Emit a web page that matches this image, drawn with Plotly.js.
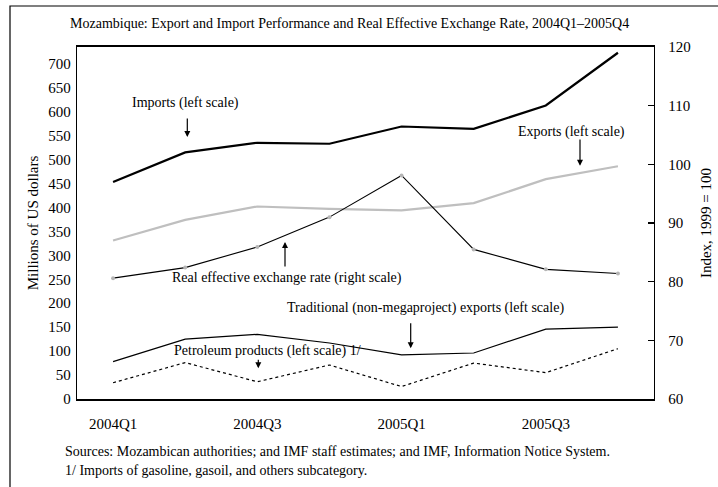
<!DOCTYPE html>
<html>
<head>
<meta charset="utf-8">
<script src="https://cdn.plot.ly/plotly-3.0.1.min.js"></script>
<style>html,body{margin:0;padding:0;background:#fff;}#chart{width:718px;height:487px;}</style>
</head>
<body>
<div id="chart"></div>
<script>
// Data
const quarters = ['2004Q1','2004Q2','2004Q3','2004Q4','2005Q1','2005Q2','2005Q3','2005Q4'];
const tickLabels = ['2004Q1','','2004Q3','','2005Q1','','2005Q3',''];
const imports = [453, 515, 535, 533, 569, 564, 613, 723];
const exportsTotal = [331, 374, 402, 397, 394, 409, 459, 486];
const reer = [80.6, 82.4, 85.9, 91.0, 98.1, 85.5, 82.1, 81.4];
const traditionalExports = [78, 125, 135, 117, 92, 96, 146, 150];
const petroleum = [34, 76, 36, 71, 26, 75, 55, 105];

// category boundaries (between consecutive quarters) for the tick marks
const boundaries = quarters.slice(1).map((q, i) => i + 0.5);

const FONT = 'Liberation Serif, Times New Roman, serif';
const W = 718, H = 487;
const M = {l: 77, r: 64, t: 47, b: 88};
const pw = W - M.l - M.r, ph = H - M.t - M.b;
const px = x => (x - M.l) / pw;
const py = y => (H - M.b - y) / ph;

const traces = [
  {x: quarters, y: imports, type: 'scatter', mode: 'lines', line: {color: '#000', width: 2.2}, yaxis: 'y'},
  {x: quarters, y: exportsTotal, type: 'scatter', mode: 'lines', line: {color: '#bfbfbf', width: 2.2}, yaxis: 'y'},
  {x: quarters, y: traditionalExports, type: 'scatter', mode: 'lines', line: {color: '#000', width: 1.2}, yaxis: 'y'},
  {x: quarters, y: petroleum, type: 'scatter', mode: 'lines', line: {color: '#000', width: 1.2, dash: 'dot'}, yaxis: 'y'},
  {x: quarters, y: reer, type: 'scatter', mode: 'lines+markers', line: {color: '#000', width: 1.1},
   marker: {color: '#b5b5b5', size: 4}, yaxis: 'y2'}
];

function label(text, x, y) {
  return {text: text, xref: 'paper', yref: 'paper', x: px(x), y: py(y), showarrow: false,
    xanchor: 'center', yanchor: 'middle', font: {family: FONT, size: 14, color: '#000'}};
}
function arrow(x, yTip, yTail) {
  return {text: '', xref: 'paper', yref: 'paper', x: px(x), y: py(yTip), showarrow: true,
    ax: 0, ay: yTail - yTip, arrowhead: 2, arrowsize: 1, arrowwidth: 1.2, arrowcolor: '#000'};
}

const layout = {
  width: W, height: H,
  margin: M,
  paper_bgcolor: '#fff', plot_bgcolor: '#fff',
  showlegend: false,
  font: {family: FONT, color: '#000'},
  xaxis: {
    type: 'category', tickmode: 'array', tickvals: quarters, ticktext: tickLabels,
    ticks: '', showline: true, linecolor: '#000', linewidth: 1.6, mirror: true,
    showgrid: false, zeroline: false, range: [-0.5, 7.5],
    ticklabelstandoff: 10,
    tickfont: {family: FONT, size: 15, color: '#000'}, automargin: false
  },
  xaxis2: {
    overlaying: 'x', anchor: 'y', side: 'bottom', type: 'linear', range: [-0.5, 7.5],
    tickmode: 'array', tickvals: boundaries, ticks: 'inside', ticklen: 6, tickwidth: 1.3, tickcolor: '#000',
    showticklabels: false, showline: false, showgrid: false, zeroline: false, automargin: false
  },
  yaxis: {
    range: [0, 735], tickvals: [0,50,100,150,200,250,300,350,400,450,500,550,600,650,700],
    ticks: '', showline: true, linecolor: '#000', linewidth: 1.2, mirror: true,
    showgrid: false, zeroline: false,
    ticklabelstandoff: 2,
    tickfont: {family: FONT, size: 15, color: '#000'},
    title: {text: 'Millions of US dollars', font: {family: FONT, size: 15, color: '#000'}, standoff: 6},
    automargin: false
  },
  yaxis2: {
    overlaying: 'y', side: 'right', range: [60, 120], tickvals: [60,70,80,90,100,110,120],
    ticks: 'inside', ticklen: 6, tickcolor: '#000', tickwidth: 1.3, showline: true, linecolor: '#000', linewidth: 1.2,
    showgrid: false, zeroline: false,
    ticklabelstandoff: 10,
    tickfont: {family: FONT, size: 15, color: '#000'},
    title: {text: 'Index, 1999 = 100', font: {family: FONT, size: 15, color: '#000'}, standoff: 10},
    automargin: false
  },
  annotations: [
    {text: 'Mozambique: Export and Import Performance and Real Effective Exchange Rate, 2004Q1\u20132005Q4',
     xref: 'paper', yref: 'paper', x: px(349.5), y: py(24), showarrow: false, xanchor: 'center', yanchor: 'middle',
     font: {family: FONT, size: 14, color: '#000'}},
    label('Imports (left scale)', 185.5, 103.3),
    arrow(187.3, 137, 117),
    label('Exports (left scale)', 571, 131.7),
    arrow(580, 165.7, 138),
    label('Real effective exchange rate (right scale)', 286.5, 278.3),
    arrow(285, 242, 268),
    label('Traditional (non-megaproject) exports (left scale)', 425.8, 308.3),
    arrow(410.7, 348.3, 321.7),
    label('Petroleum products (left scale) 1/', 267, 351),
    arrow(258.3, 368.3, 358.3),
    {text: 'Sources: Mozambican authorities; and IMF staff estimates; and IMF, Information Notice System.',
     xref: 'paper', yref: 'paper', x: px(63.3), y: py(451.7), showarrow: false, xanchor: 'left', yanchor: 'middle',
     font: {family: FONT, size: 14, color: '#000'}},
    {text: '1/ Imports of gasoline, gasoil, and others subcategory.',
     xref: 'paper', yref: 'paper', x: px(63.3), y: py(470), showarrow: false, xanchor: 'left', yanchor: 'middle',
     font: {family: FONT, size: 14, color: '#000'}}
  ],
  shapes: [
    {type: 'rect', xref: 'paper', yref: 'paper', x0: px(10), x1: px(740), y0: py(505), y1: py(6),
     line: {color: '#000', width: 1.2}, fillcolor: 'rgba(0,0,0,0)', layer: 'above'}
  ]
};

Plotly.newPlot('chart', traces, layout, {staticPlot: true, displayModeBar: false});
</script>
</body>
</html>
